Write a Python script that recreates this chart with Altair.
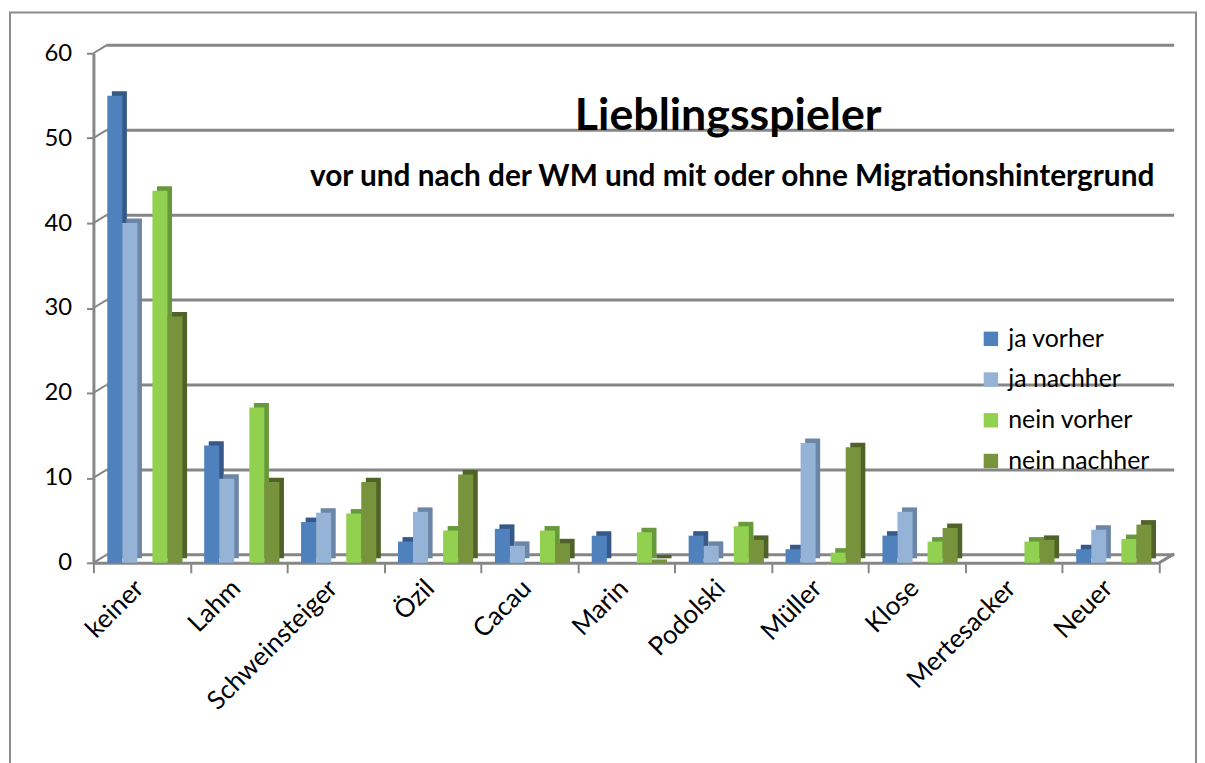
import altair as alt
import pandas as pd

players = ["keiner", "Lahm", "Schweinsteiger", "Özil", "Cacau", "Marin",
           "Podolski", "Müller", "Klose", "Mertesacker", "Neuer"]
series = ["ja vorher", "ja nachher", "nein vorher", "nein nachher"]
ja_vorher = [55, 13.8, 4.8, 2.5, 4.0, 3.2, 3.2, 1.6, 3.2, 0, 1.6]
ja_nachher = [40, 9.9, 5.9, 6.0, 2.0, 0, 2.0, 14.1, 6.0, 0, 3.9]
nein_vorher = [43.8, 18.3, 5.8, 3.8, 3.8, 3.6, 4.3, 1.2, 2.5, 2.5, 2.8]
nein_nachher = [29, 9.5, 9.5, 10.4, 2.3, 0.4, 2.7, 13.6, 4.1, 2.7, 4.5]
y_ticks = [0, 10, 20, 30, 40, 50, 60]

front_colors = ["#4F81BD", "#95B3D7", "#92D050", "#77933C"]
side_colors = ["#36598A", "#6C86A8", "#65993A", "#4F6228"]

rows = []
for s, vals in zip(series, [ja_vorher, ja_nachher, nein_vorher, nein_nachher]):
    for p, v in zip(players, vals):
        rows.append({"Spieler": p, "Serie": s, "Wert": v})
df = pd.DataFrame(rows)
grid_df = pd.DataFrame({"Wert": y_ticks})

FONT = "Lato"
W, H = 1073, 513
slot_domain = ["ja vorher", "ja nachher", "_", "nein vorher", "nein nachher"]

x_enc = alt.X("Spieler:N", sort=players,
              scale=alt.Scale(paddingInner=0, paddingOuter=0),
              axis=alt.Axis(title=None, labelAngle=-45, labelFontSize=26,
                            labelFont=FONT, labelColor="#000000",
                            labelPadding=2, labelOffset=-12,
                            tickBand="extent", tickSize=10,
                            tickColor="#868686", tickWidth=2,
                            domainColor="#868686", domainWidth=3,
                            grid=False))
y_enc = alt.Y("Wert:Q", scale=alt.Scale(domain=[0, 60], nice=False),
              axis=alt.Axis(title=None, values=y_ticks, labelFontSize=24,
                            labelFont=FONT, labelColor="#000000",
                            labelPadding=15, tickSize=7, tickColor="#868686",
                            tickWidth=2, domainColor="#868686", domainWidth=3,
                            grid=False))

side = alt.Chart(df).mark_bar(yOffset=-4.5).encode(
    x=x_enc,
    xOffset=alt.XOffset("Serie:N", scale=alt.Scale(domain=slot_domain,
                        paddingInner=0, paddingOuter=0.72, align=0.85)),
    y=y_enc,
    color=alt.Color("Serie:N", scale=alt.Scale(domain=series, range=side_colors),
                    legend=None),
)

front = alt.Chart(df).mark_bar().encode(
    x=x_enc,
    xOffset=alt.XOffset("Serie:N", scale=alt.Scale(domain=slot_domain,
                        paddingInner=0, paddingOuter=0.72, align=0.64)),
    y=y_enc,
    color=alt.Color("Serie:N", scale=alt.Scale(domain=series, range=front_colors),
                    legend=alt.Legend(title=None, orient="none", legendX=891,
                                      legendY=275, labelFontSize=25,
                                      labelFont=FONT, labelColor="#000000",
                                      symbolType="square", symbolSize=210,
                                      symbolStrokeWidth=0, labelOffset=5,
                                      rowPadding=15)),
)

grid = alt.Chart(grid_df).mark_rule(yOffset=-8, y2Offset=-8, color="#868686",
                                    strokeWidth=3).encode(
    x=alt.value(13), x2=alt.value(1088), y="Wert:Q", y2="Wert:Q")

side_wall = alt.Chart(grid_df).mark_rule(y2Offset=-8, color="#868686",
                                         strokeWidth=2).encode(
    x=alt.value(0), x2=alt.value(13), y="Wert:Q", y2="Wert:Q")

floor_right = alt.Chart(pd.DataFrame({"Wert": [0]})).mark_rule(
    y2Offset=-9, color="#868686", strokeWidth=3).encode(
    x=alt.value(1073), x2=alt.value(1088), y="Wert:Q", y2="Wert:Q")

border = alt.Chart(pd.DataFrame({"a": [0]})).mark_rect(
    filled=False, stroke="#8C8C8C", strokeWidth=2).encode(
    x=alt.value(-84), x2=alt.value(1110), y=alt.value(-41), y2=alt.value(760))

title = alt.Chart(pd.DataFrame({"t": ["Lieblingsspieler"]})).mark_text(
    font=FONT, fontSize=45, fontWeight="bold", align="center",
    baseline="alphabetic", color="#000000").encode(
    x=alt.value(639), y=alt.value(77), text="t:N")

subtitle = alt.Chart(pd.DataFrame(
    {"t": ["vor und nach der WM und mit oder ohne Migrationshintergrund"]})).mark_text(
    font=FONT, fontSize=30, fontWeight="bold", align="center",
    baseline="alphabetic", color="#000000").encode(
    x=alt.value(643), y=alt.value(134), text="t:N")

chart = alt.layer(border, grid, side_wall, floor_right, side, front, title,
                  subtitle).resolve_scale(color="independent",
                                          xOffset="independent").properties(
    width=W, height=H,
    autosize=alt.AutoSizeParams(type="none"),
    padding={"left": 86, "top": 43, "right": 38, "bottom": 199},
    background="#FFFFFF",
).configure_view(stroke=None)

chart.save("out.html", embed_options={"renderer": "svg", "actions": False})
